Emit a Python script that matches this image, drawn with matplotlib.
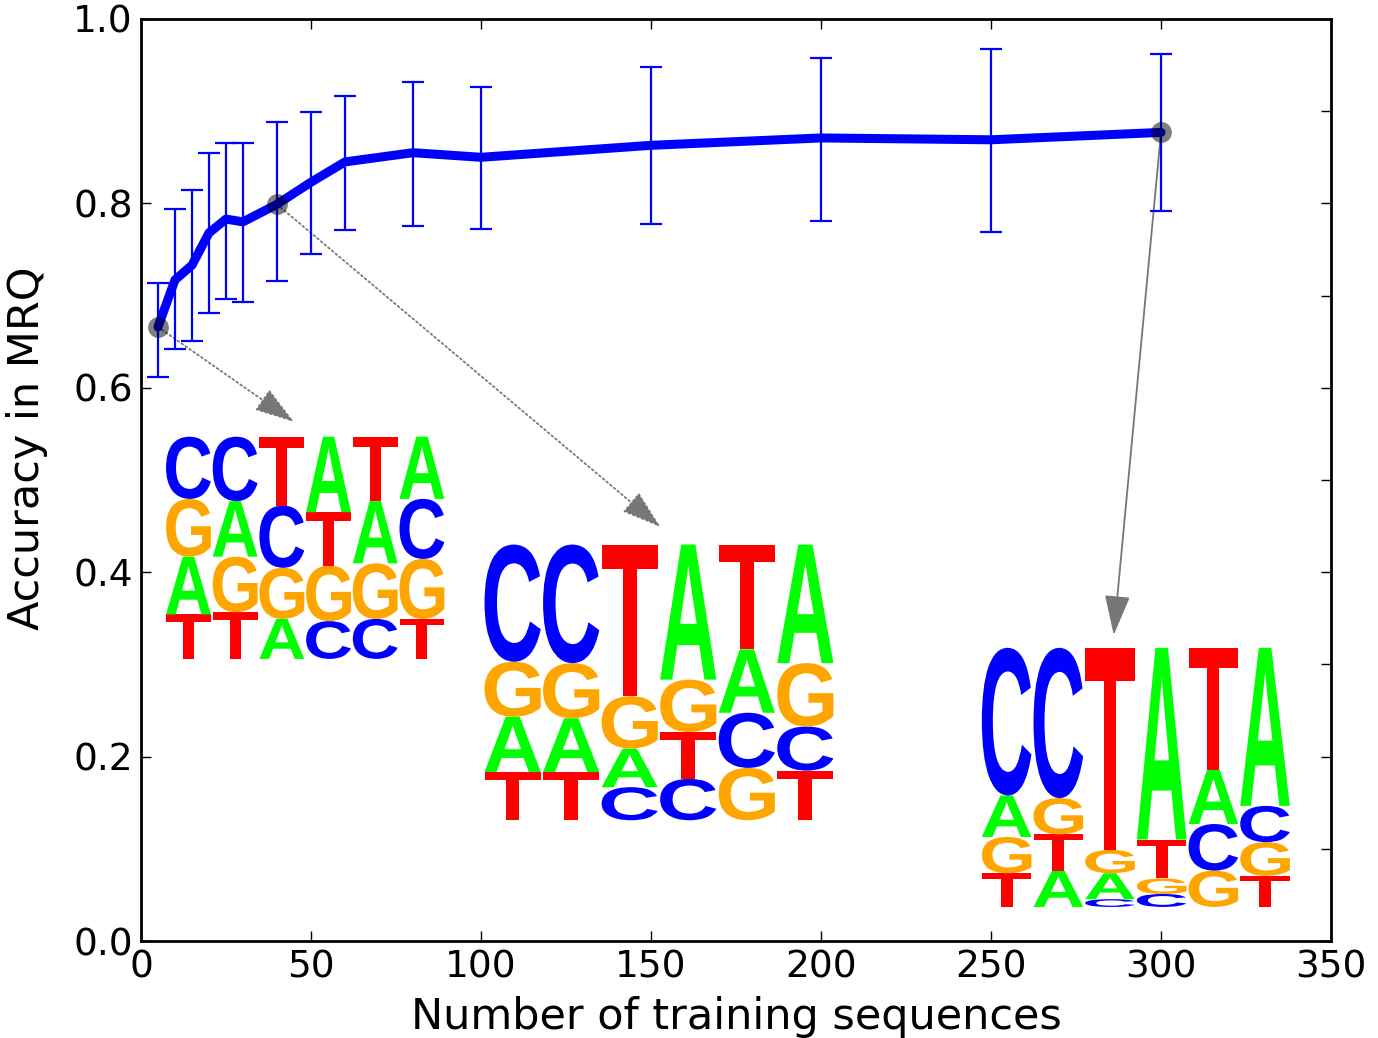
import numpy as np
import matplotlib
matplotlib.use("Agg")
from matplotlib import pyplot as plt
from matplotlib.textpath import TextPath
from matplotlib.patches import PathPatch
from matplotlib.font_manager import FontProperties
from matplotlib.transforms import Affine2D
from matplotlib.ticker import MultipleLocator

# accuracy vs. number of training sequences
n_train = [5, 10, 15, 20, 25, 30, 40, 50, 60, 80, 100, 150, 200, 250, 300]
accuracy = [0.666, 0.717, 0.733, 0.768, 0.783, 0.780, 0.799, 0.823, 0.845,
            0.855, 0.850, 0.863, 0.871, 0.869, 0.877]
err_top = [0.714, 0.794, 0.815, 0.855, 0.866, 0.866, 0.888, 0.899, 0.917,
           0.932, 0.926, 0.948, 0.958, 0.967, 0.962]
err_bottom = [0.612, 0.642, 0.651, 0.681, 0.696, 0.693, 0.716, 0.745, 0.771,
              0.775, 0.772, 0.778, 0.781, 0.769, 0.792]

# points that get a logo
marked_n = [5, 40, 300]
marked_acc = [0.666, 0.799, 0.877]

# logo columns, letters bottom -> top, with their relative heights
logo_5_letters = ["TAGC", "TGAC", "AGCT", "CGTA", "CGAT", "TGCA"]
logo_5_probs = [[0.20, 0.26, 0.26, 0.28], [0.21, 0.25, 0.25, 0.29],
                [0.18, 0.23, 0.28, 0.31], [0.17, 0.25, 0.24, 0.34],
                [0.18, 0.25, 0.28, 0.29], [0.18, 0.27, 0.27, 0.28]]

logo_40_letters = ["TAGC", "TAGC", "CAGT", "CTGA", "GCAT", "TCGA"]
logo_40_probs = [[0.175, 0.20, 0.20, 0.425], [0.175, 0.195, 0.20, 0.43],
                 [0.12, 0.14, 0.19, 0.55], [0.15, 0.17, 0.19, 0.49],
                 [0.19, 0.20, 0.23, 0.38], [0.18, 0.16, 0.23, 0.43]]

logo_300_letters = ["TGAC", "ATGC", "CAGT", "CGTA", "GCAT", "TGCA"]
logo_300_probs = [[0.13, 0.14, 0.16, 0.57], [0.14, 0.14, 0.14, 0.58],
                  [0.03, 0.10, 0.09, 0.78], [0.05, 0.06, 0.15, 0.74],
                  [0.14, 0.18, 0.21, 0.47], [0.12, 0.13, 0.14, 0.61]]

base_colors = {"A": "#00ff00", "C": "#0000ff", "G": "#ffa500", "T": "#ff0000"}

glyph_font = FontProperties(family="Liberation Sans", weight="bold")


def draw_letter(ax, letter, x0, y0, w, h):
    tp = TextPath((0, 0), letter, size=1, prop=glyph_font)
    bb = tp.get_extents()
    tr = Affine2D().translate(-bb.x0, -bb.y0).scale(w / bb.width, h / bb.height).translate(x0, y0)
    path = tr.transform_path(tp)
    ax.add_patch(PathPatch(path, facecolor=base_colors[letter], edgecolor="none", zorder=2))


def draw_logo(ax, letters, probs, x0, x1, y0, y1):
    col_w = (x1 - x0) / len(letters)
    for i, (col, p) in enumerate(zip(letters, probs)):
        p = np.array(p) / np.sum(p)
        y = y0
        for letter, frac in zip(col, p):
            hh = frac * (y1 - y0)
            draw_letter(ax, letter, x0 + i * col_w + 0.02 * col_w, y, 0.96 * col_w, hh)
            y += hh


plt.rcParams["font.family"] = ["DejaVu Sans"]

fig = plt.figure(figsize=(13.78, 10.38), dpi=100)
ax = fig.add_axes([0.1023, 0.0934, 0.8636, 0.8883])

acc = np.array(accuracy)
yerr = [acc - np.array(err_bottom), np.array(err_top) - acc]
ax.errorbar(n_train, accuracy, yerr=yerr, fmt="none", ecolor="#0000ff",
            elinewidth=1.6, capsize=8, capthick=1.6, zorder=3)
ax.plot(n_train, accuracy, color="#0000ff", lw=6.5, solid_capstyle="round", zorder=4)
ax.plot(marked_n, marked_acc, "o", color="k", alpha=0.5, ms=15, mec="none", zorder=5)

draw_logo(ax, logo_5_letters, logo_5_probs, 7.1, 89.5, 0.306, 0.547)
draw_logo(ax, logo_40_letters, logo_40_probs, 100.7, 204.0, 0.131, 0.430)
draw_logo(ax, logo_300_letters, logo_300_probs, 247.0, 338.2, 0.037, 0.318)

arrow_kw = dict(arrowstyle="-|>,head_length=1.0,head_width=0.32", color="#777777",
                lw=1.3, shrinkA=0, shrinkB=0, mutation_scale=25)
ax.annotate("", xy=(45.0, 0.563), xytext=(5, 0.666),
            arrowprops=dict(linestyle=":", **arrow_kw), zorder=1)
ax.annotate("", xy=(152.8, 0.449), xytext=(40, 0.799),
            arrowprops=dict(linestyle=":", **arrow_kw), zorder=1)
ax.annotate("", xy=(286.1, 0.332), xytext=(300, 0.877),
            arrowprops=dict(linestyle="-", **arrow_kw), zorder=1)

ax.set_xlim(0, 350)
ax.set_ylim(0, 1.0)
ax.xaxis.set_major_locator(MultipleLocator(50))
ax.yaxis.set_major_locator(MultipleLocator(0.2))
ax.yaxis.set_minor_locator(MultipleLocator(0.1))
ax.set_yticklabels(["%.1f" % v for v in ax.get_yticks()])
ax.tick_params(which="major", direction="in", length=7, width=1, top=True, right=True,
               labelsize=27, pad=6)
ax.tick_params(which="minor", direction="in", length=7, width=1, left=False, right=True)
for s in ax.spines.values():
    s.set_linewidth(2)

ax.set_xlabel("Number of training sequences", fontsize=31, labelpad=8)
ax.set_ylabel("Accuracy in MRQ", fontsize=31)
ax.yaxis.set_label_coords(-0.078, 0.535)

fig.savefig("out.png", dpi=100)
